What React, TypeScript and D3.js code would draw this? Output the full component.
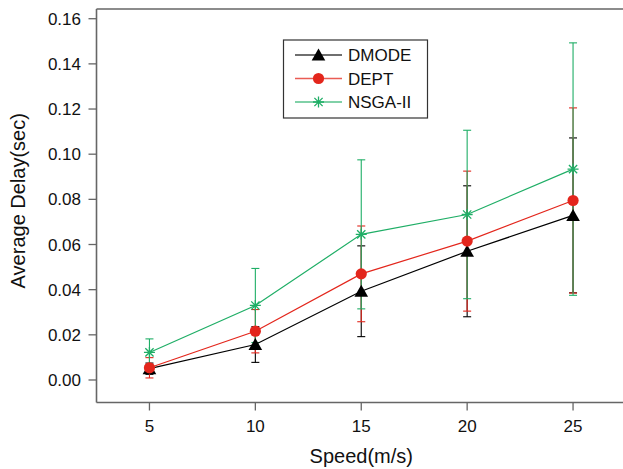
import React from "react";
import * as d3 from "d3";

// Node speed (m/s)
const speeds = [5, 10, 15, 20, 25];

// Mean delay (sec) and error half-widths per algorithm
const dmodeMean = [0.005, 0.0157, 0.0393, 0.057, 0.0729];
const dmodeErr = [0.0025, 0.0079, 0.0201, 0.029, 0.0343];
const deptMean = [0.0054, 0.0216, 0.047, 0.0615, 0.0795];
const deptErr = [0.0045, 0.0096, 0.0212, 0.031, 0.041];
const nsgaMean = [0.0122, 0.033, 0.0645, 0.0733, 0.0934];
const nsgaErr = [0.006, 0.0164, 0.033, 0.0373, 0.0559];

const seriesNames = ["DMODE", "DEPT", "NSGA-II"];
const xTicks = [5, 10, 15, 20, 25];
const yTicks = [0, 0.02, 0.04, 0.06, 0.08, 0.1, 0.12, 0.14, 0.16];

const W = 623;
const H = 469;
const FONT = "'Liberation Sans', Arial, Helvetica, sans-serif";

type Kind = "triangle" | "circle" | "star";

const series = [
  { name: seriesNames[0], mean: dmodeMean, err: dmodeErr, color: "#000000", kind: "triangle" as Kind },
  { name: seriesNames[1], mean: deptMean, err: deptErr, color: "#e3261c", kind: "circle" as Kind },
  { name: seriesNames[2], mean: nsgaMean, err: nsgaErr, color: "#1fae66", kind: "star" as Kind },
];

function Marker({ kind, x, y, color }: { kind: Kind; x: number; y: number; color: string }) {
  if (kind === "triangle") {
    const s = 6.5;
    return (
      <path
        d={`M${x},${y - s} L${x + s * 1.05},${y + s * 0.85} L${x - s * 1.05},${y + s * 0.85} Z`}
        fill={color}
      />
    );
  }
  if (kind === "circle") {
    return <circle cx={x} cy={y} r={5.6} fill={color} />;
  }
  const r = 5.5;
  const d = r * 0.75;
  return (
    <path
      d={`M${x - r},${y} L${x + r},${y} M${x},${y - r} L${x},${y + r} M${x - d},${y - d} L${x + d},${y + d} M${x - d},${y + d} L${x + d},${y - d}`}
      stroke={color}
      strokeWidth={1.3}
      fill="none"
    />
  );
}

export default function App() {
  const left = 96.5;
  const right = 626;
  const top = 9;
  const bottom = 402.5;

  const x = d3.scaleLinear().domain([2.5, 27.5]).range([left, right]);
  const y = d3.scaleLinear().domain([-0.00997, 0.1643]).range([bottom, top]);

  const line = d3
    .line<number>()
    .x((_, i) => x(speeds[i]))
    .y((v) => y(v));

  const axisColor = "#666666";
  const cap = 4;

  return (
    <svg width={W} height={H} style={{ position: "absolute", left: 0, top: 0, background: "#fff" }}>
      <rect x={0} y={0} width={W} height={H} fill="#ffffff" />

      {/* error bars */}
      {series.map((s) => (
        <g key={`err-${s.name}`} stroke={s.color} strokeWidth={1.1}>
          {speeds.map((sp, i) => {
            const cx = x(sp);
            const y1 = y(s.mean[i] + s.err[i]);
            const y2 = y(s.mean[i] - s.err[i]);
            return (
              <g key={i}>
                <line x1={cx} x2={cx} y1={y1} y2={y2} />
                <line x1={cx - cap} x2={cx + cap} y1={y1} y2={y1} />
                <line x1={cx - cap} x2={cx + cap} y1={y2} y2={y2} />
              </g>
            );
          })}
        </g>
      ))}

      {/* series lines */}
      {series.map((s) => (
        <path key={`line-${s.name}`} d={line(s.mean) || ""} fill="none" stroke={s.color} strokeWidth={1.2} />
      ))}

      {/* markers */}
      {series.map((s) => (
        <g key={`mk-${s.name}`}>
          {speeds.map((sp, i) => (
            <Marker key={i} kind={s.kind} x={x(sp)} y={y(s.mean[i])} color={s.color} />
          ))}
        </g>
      ))}

      {/* frame */}
      <line x1={left} x2={left} y1={top} y2={bottom} stroke={axisColor} strokeWidth={1.6} />
      <line x1={left} x2={W} y1={bottom} y2={bottom} stroke={axisColor} strokeWidth={1.6} />
      <line x1={left} x2={W} y1={top} y2={top} stroke={axisColor} strokeWidth={1.6} />

      {/* y axis */}
      {yTicks.map((t) => (
        <g key={`yt-${t}`}>
          <line x1={left - 8} x2={left} y1={y(t)} y2={y(t)} stroke={axisColor} strokeWidth={1.3} />
          <text
            x={81}
            y={y(t)}
            dy="0.36em"
            textAnchor="end"
            fontFamily={FONT}
            fontSize={17}
            fill="#111"
          >
            {d3.format(".2f")(t)}
          </text>
        </g>
      ))}

      {/* x axis */}
      {xTicks.map((t) => (
        <g key={`xt-${t}`}>
          <line x1={x(t)} x2={x(t)} y1={bottom} y2={bottom + 8} stroke={axisColor} strokeWidth={1.3} />
          <text x={x(t)} y={432} textAnchor="middle" fontFamily={FONT} fontSize={17} fill="#111">
            {t}
          </text>
        </g>
      ))}

      {/* axis titles */}
      <text x={(left + right) / 2} y={463} textAnchor="middle" fontFamily={FONT} fontSize={20} fill="#111">
        Speed(m/s)
      </text>
      <text
        transform={`translate(25,${(top + bottom) / 2 - 5}) rotate(-90)`}
        textAnchor="middle"
        fontFamily={FONT}
        fontSize={20}
        fill="#111"
      >
        Average Delay(sec)
      </text>

      {/* legend */}
      <rect x={283.5} y={40} width={144} height={78} fill="#fff" stroke="#333" strokeWidth={1.2} />
      {series.map((s, i) => {
        const ly = 55 + i * 23.5;
        return (
          <g key={`lg-${s.name}`}>
            <line x1={295} x2={342} y1={ly} y2={ly} stroke={s.color} strokeWidth={1.3} opacity={0.75} />
            <Marker kind={s.kind} x={318.5} y={ly} color={s.color} />
            <text x={348} y={ly} dy="0.36em" fontFamily={FONT} fontSize={17} fill="#111">
              {s.name}
            </text>
          </g>
        );
      })}
    </svg>
  );
}
